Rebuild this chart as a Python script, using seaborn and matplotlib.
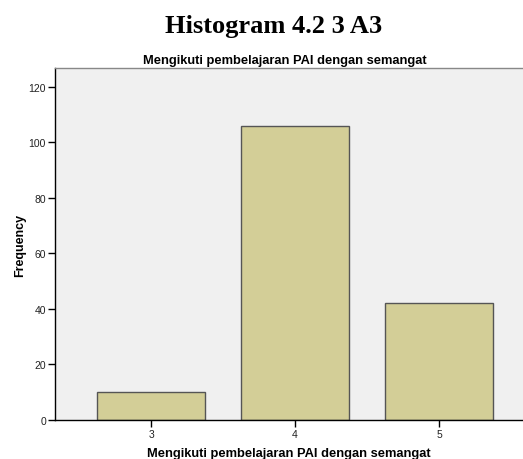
import pandas as pd
import matplotlib.pyplot as plt
import seaborn as sns

# Data
scores = ['3', '4', '5']
frequency = [10, 106, 42]

df = pd.DataFrame({'Score': scores, 'Frequency': frequency})

sns.set_style('ticks')
plt.rcParams['font.family'] = ['Liberation Sans', 'DejaVu Sans']
plt.rcParams['text.color'] = 'black'
plt.rcParams['axes.labelcolor'] = 'black'

fig = plt.figure(figsize=(5.23, 4.6), dpi=100)
ax = fig.add_axes([55 / 523, 39 / 460, 1 - 55 / 523, 352 / 460])
ax.set_facecolor('#f0f0f0')

sns.barplot(data=df, x='Score', y='Frequency', color='#d3ce97', saturation=1,
            width=0.75, edgecolor='#555555', linewidth=1.0, ax=ax)

ax.set_xlim(-0.667, 2.583)
ax.set_ylim(0, 126.8)
ax.set_yticks([0, 20, 40, 60, 80, 100, 120])

ax.spines['left'].set_color('black')
ax.spines['bottom'].set_color('black')
ax.spines['top'].set_visible(True)
ax.spines['top'].set_color('#888888')
ax.spines['right'].set_visible(False)
for s in ['left', 'bottom', 'top']:
    ax.spines[s].set_linewidth(1.0)

ax.tick_params(axis='both', which='major', direction='out', length=5, width=1.0,
               labelsize=7.5, color='black', labelcolor='#222222',
               left=True, bottom=True, pad=1.5)

ax.set_xlabel('Mengikuti pembelajaran PAI dengan semangat', fontsize=9.3,
              fontweight='bold', labelpad=6)
ax.set_ylabel('Frequency', fontsize=9, fontweight='bold', labelpad=2)

fig.text(273.5 / 523, 1 - 26 / 460, 'Histogram 4.2 3 A3', ha='center', va='center',
         fontsize=19, fontweight='bold', family=['Liberation Serif', 'DejaVu Serif'])
fig.text(284.5 / 523, 1 - 61 / 460, 'Mengikuti pembelajaran PAI dengan semangat',
         ha='center', va='center', fontsize=9.3, fontweight='bold')

fig.savefig('out.png', dpi=100)
